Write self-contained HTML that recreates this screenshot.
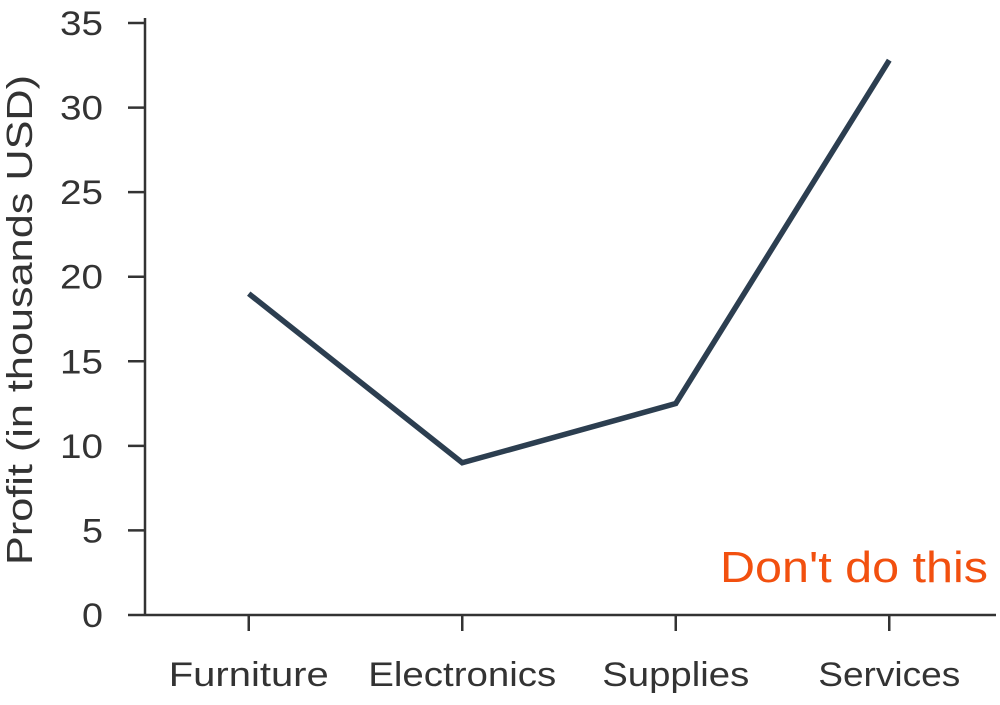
<!DOCTYPE html>
<html><head><meta charset="utf-8"><style>
html,body{margin:0;padding:0;background:#fff;}
svg text{font-family:"Liberation Sans",sans-serif;}
</style></head><body>
<svg id="chart" width="1000" height="700" xmlns="http://www.w3.org/2000/svg"></svg>
<script>
const categories=["Furniture","Electronics","Supplies","Services"];
const profitValues=[19,9,12.5,32.8];
const yTicks=[0,5,10,15,20,25,30,35];
const NS="http://www.w3.org/2000/svg";
const svg=document.getElementById('chart');
const x0=142,x1=996,yBase=615,yTop=23,yMax=35;
const band=(x1-x0)/categories.length;
const labelWidths={"Furniture":160,"Electronics":188,"Supplies":147,"Services":142};
function xs(i){return x0+band*(i+0.5);}
function ys(v){return yBase-(yBase-yTop)*v/yMax;}
function mk(tag,attrs,parent){const e=document.createElementNS(NS,tag);for(const k in attrs)e.setAttribute(k,attrs[k]);(parent||svg).appendChild(e);return e;}
const axisColor="#333";
const ya=mk('line',{x1:145,y1:yTop-5,x2:145,y2:yBase,stroke:axisColor,'stroke-width':2.5});


const xa=mk('line',{x1:145,y1:yBase,x2:x1,y2:yBase,stroke:axisColor,'stroke-width':2.5});


yTicks.forEach(t=>{
  const y=ys(t);
  const tk=mk('line',{x1:128,y1:y,x2:145,y2:y,stroke:axisColor,'stroke-width':2.5});
  
  
  const w=String(t).length>1?43:21;
  const tx=mk('text',{x:103,y:y+12,'text-anchor':'end','font-size':34,fill:'#333',textLength:w,lengthAdjust:'spacingAndGlyphs'});
  tx.textContent=t;
  
  
});
categories.forEach((c,i)=>{
  const x=xs(i);
  const tk=mk('line',{x1:x,y1:yBase,x2:x,y2:yBase+16,stroke:axisColor,'stroke-width':2.5});
  
  
  const tx=mk('text',{x:x,y:686,'text-anchor':'middle','font-size':34,fill:'#333',textLength:labelWidths[c]||150,lengthAdjust:'spacingAndGlyphs'});
  tx.textContent=c;
  
  
});
const pts=profitValues.map((v,i)=>xs(i)+','+ys(v)).join(' ');
const line=mk('polyline',{points:pts,fill:'none',stroke:'#2c3e50','stroke-width':5.5,'stroke-linejoin':'miter'});


const yt=mk('text',{x:0,y:0,transform:'translate(32,320) rotate(-90)','text-anchor':'middle','font-size':36,fill:'#333',textLength:490,lengthAdjust:'spacingAndGlyphs'});
yt.textContent="Profit (in thousands USD)";


const note=mk('text',{x:988,y:582,'text-anchor':'end','font-size':44,fill:'#f2500f',textLength:268,lengthAdjust:'spacingAndGlyphs'});
note.textContent="Don't do this";


</script>
</body></html>
